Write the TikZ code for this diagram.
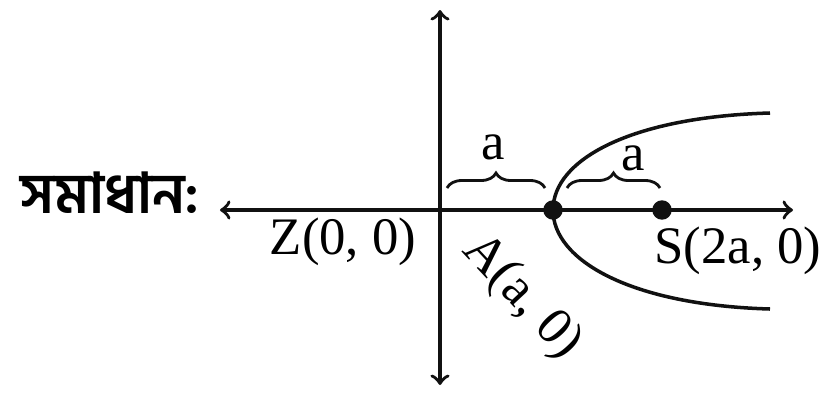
\documentclass[tikz,border=0pt]{standalone}
\usepackage{fontspec}
\setmainfont{Liberation Serif}
\newfontfamily\bengalifont[Script=Bengali]{Hind Siliguri}
\usetikzlibrary{decorations.pathreplacing}

\begin{document}
\begin{tikzpicture}[font=\fontsize{15}{18}\selectfont]
    \def\vertexX{1.13}
    \def\focusX{2.22}

    \definecolor{lineColour}{HTML}{111111}

    \useasboundingbox (-4.40,-1.85) rectangle (3.89,2.10);

    % Draw axes
    \coordinate (xMin) at (-2.20,0);
    \coordinate (xMax) at (3.53,0);
    \coordinate (yMax) at (0,2.00);
    \coordinate (yMin) at (0,-1.75);
    \draw[line width=1pt,lineColour,<->] (xMin) -- (xMax);
    \draw[line width=1pt,lineColour,<->] (yMin) -- (yMax);

    % Parabola: vertex A, opening towards S
    \coordinate (A) at (\vertexX,0);
    \coordinate (S) at (\focusX,0);
    \coordinate (P1) at (3.30,0.97);
    \coordinate (P2) at (3.30,-0.99);
    \draw[line width=1pt,lineColour] (P1) .. controls (1.90,0.93) and (\vertexX,0.50) .. (A)
        .. controls (\vertexX,-0.50) and (1.90,-0.95) .. (P2);

    \filldraw[lineColour] (A) circle (0.09);
    \filldraw[lineColour] (S) circle (0.09);

    % Braces for the distances
    \draw[line width=0.8pt,lineColour,decorate,decoration={brace,amplitude=0.15cm}]
        (0.07,0.22) -- (1.05,0.22);
    \draw[line width=0.8pt,lineColour,decorate,decoration={brace,amplitude=0.15cm}]
        (1.27,0.22) -- (2.20,0.22);
    \node (aLeft) at (0.53,0.63) {a};
    \node (aRight) at (1.93,0.52) {a};

    % Labels
    \node (solLabel) at (-3.30,0.17) {\bengalifont\bfseries\fontsize{16}{18}\selectfont সমাধান:};
    \node (zLabel) at (-0.97,-0.32) {Z(0, 0)};
    \node[rotate=-47] (aLabel) at (0.82,-0.87) {A(a, 0)};
    \node (sLabel) at (2.98,-0.41) {S(2a, 0)};

\end{tikzpicture}
\end{document}
